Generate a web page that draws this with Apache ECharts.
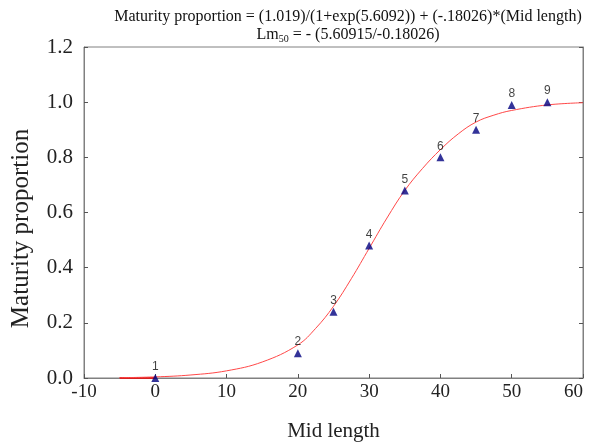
<!DOCTYPE html>
<html><head><meta charset="utf-8">
<script src="https://cdn.jsdelivr.net/npm/echarts@6/dist/echarts.min.js"></script>
<style>html,body{margin:0;padding:0;background:#fff}#c{width:589px;height:446px}</style>
</head><body><div id="c"></div>
<script>
// Observed points
const pointLabels = ['1','2','3','4','5','6','7','8','9'];
const midLength = [0, 20, 25, 30, 35, 40, 45, 50, 55];
const proportion = [0.0, 0.09, 0.24, 0.48, 0.68, 0.80, 0.90, 0.99, 1.00];
// Fitted curve
const curveX = [-5, 0, 5, 10, 15, 20, 22.5, 25, 27.5, 30, 32.5, 35, 37.5, 40, 42.5, 45, 47.5, 50, 55, 60];
const curveY = [0.001, 0.004, 0.011, 0.026, 0.058, 0.12, 0.18, 0.26, 0.36, 0.47, 0.58, 0.68, 0.76, 0.828, 0.885, 0.928, 0.953, 0.97, 0.99, 0.998];
const baseX = [-5, 0];
const baseY = [0, 0];
const xTicks = [-10, 0, 10, 20, 30, 40, 50, 60];
const yTicks = [0, 0.2, 0.4, 0.6, 0.8, 1.0, 1.2];

const serif = '"Liberation Serif", "Times New Roman", serif';
const chart = echarts.init(document.getElementById('c'));
chart.setOption({
  animation: false,
  title: {
    text: 'Maturity proportion = (1.019)/(1+exp(5.6092)) + (-.18026)*(Mid length)\n{n|Lm}{s|50}{n| = - (5.60915/-0.18026)}',
    left: 343, top: 3, textAlign: 'center',
    textStyle: { fontFamily: serif, fontSize: 16, fontWeight: 'normal', color: '#111', lineHeight: 18,
      rich: { n: { fontFamily: serif, fontSize: 16, color: '#111' }, s: { fontFamily: serif, fontSize: 10, color: '#111', verticalAlign: 'bottom', padding: [7, 0, 0, 0] } } }
  },
  grid: { left: 84, right: 6, top: 47, bottom: 68, show: true, borderColor: '#808080', borderWidth: 1, outerBoundsMode: 'none', containLabel: false },
  xAxis: {
    type: 'value', min: xTicks[0], max: xTicks[xTicks.length - 1], interval: 10,
    name: 'Mid length', nameLocation: 'middle', nameGap: 43,
    nameTextStyle: { fontFamily: serif, fontSize: 21, color: '#222' },
    axisLine: { onZero: false, lineStyle: { color: '#808080' } },
    axisTick: { inside: true, length: 4, lineStyle: { color: '#555' } },
    axisLabel: { fontFamily: serif, fontSize: 19, color: '#222', margin: 5, alignMaxLabel: 'right' },
    splitLine: { show: false }
  },
  yAxis: [{
    type: 'value', min: 0, max: 1.2, interval: 0.2,
    name: 'Maturity proportion', nameLocation: 'middle', nameGap: 50,
    nameTextStyle: { fontFamily: serif, fontSize: 25, color: '#222', padding: [0, 32, 0, 0] },
    axisLine: { show: true, onZero: false, lineStyle: { color: '#808080' } },
    axisTick: { show: true, inside: true, length: 4, lineStyle: { color: '#555' } },
    axisLabel: { fontFamily: serif, fontSize: 21, color: '#222', margin: 11, formatter: v => v.toFixed(1) },
    splitLine: { show: false }
  }, {
    type: 'value', min: 0, max: 1.2, interval: 0.2, position: 'right',
    axisLine: { show: true, onZero: false, lineStyle: { color: '#808080' } },
    axisTick: { inside: true, length: 4, lineStyle: { color: '#555' } },
    axisLabel: { show: false }, splitLine: { show: false }
  }],
  series: [{
    type: 'line', data: baseX.map((x, i) => [x, baseY[i]]), symbol: 'none',
    lineStyle: { color: '#d42020', width: 2 }, z: 2
  }, {
    type: 'line', data: curveX.map((x, i) => [x, curveY[i]]), smooth: 0.4, symbol: 'none',
    lineStyle: { color: '#ff4848', width: 1 }, z: 3
  }, {
    type: 'scatter', data: midLength.map((x, i) => [x, proportion[i], pointLabels[i]]),
    symbol: 'triangle', symbolSize: 8, itemStyle: { color: '#000080' }, z: 4,
    label: { show: true, position: 'top', distance: 1, formatter: p => p.data[2],
      fontFamily: '"Liberation Sans", Arial, sans-serif', fontSize: 12, color: '#111' }
  }]
});
</script></body></html>
